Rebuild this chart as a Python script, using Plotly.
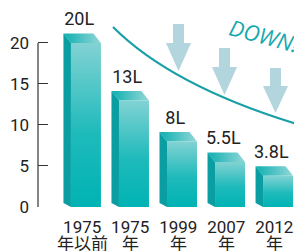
import plotly.graph_objects as go

# ---- data ----
year_labels = ["1975", "1975", "1999", "2007", "2012"]
suffix_labels = ["年以前", "年", "年", "年", "年"]
values = [20, 13, 8, 5.5, 3.8]
value_labels = ["20L", "13L", "8L", "5.5L", "3.8L"]
y_ticks = [0, 5, 10, 15, 20]

# ---- layout geometry ----
W, H = 294, 251
ML, MR, MT, MB = 38, 0, 0, 44
PW, PH = W - ML - MR, H - MT - MB
X_RANGE = [-0.92, 4.41]
Y_RANGE = [0, 25.24]
XS = PW / (X_RANGE[1] - X_RANGE[0])
YS = PH / (Y_RANGE[1] - Y_RANGE[0])


def px2x(px):
    return X_RANGE[0] + (px - ML) / XS


def py2y(py):
    return Y_RANGE[0] + (MT + PH - py) / YS


FRONT_W = 30 / XS
DX = -7.5 / XS
DY = 9.5 / YS
DYB = 4 / YS

FRONT_SCALE = [[0, "#00b3b4"], [0.45, "#1ebabb"], [1, "#82d2d3"]]
TOP_SCALE = [[0, "#0eafb0"], [1, "#93d7d8"]]
SIDE_COLOR = "#0a9ea2"

fig = go.Figure()

xs = list(range(len(year_labels)))
side_x, side_y = [], []
for i, v in zip(xs, values):
    fl = i - (DX + FRONT_W) / 2
    fr = fl + FRONT_W
    side_x += [fl + DX, fl + DX, fl, fl, fl + DX, None]
    side_y += [DYB, v + DY, v, 0, DYB, None]
    # top face
    fig.add_trace(go.Scatter(
        x=[fl + DX, fr + DX, fr, fl, fl + DX],
        y=[v + DY, v + DY, v, v, v + DY],
        mode="lines", fill="toself", line=dict(width=0, color="rgba(0,0,0,0)"),
        fillgradient=dict(type="horizontal", colorscale=TOP_SCALE),
        hoverinfo="skip", showlegend=False))
    # front face
    fig.add_trace(go.Scatter(
        x=[fl, fr, fr, fl, fl],
        y=[0, 0, v, v, 0],
        mode="lines", fill="toself", line=dict(width=0, color="rgba(0,0,0,0)"),
        fillgradient=dict(type="vertical", colorscale=FRONT_SCALE),
        hoverinfo="skip", showlegend=False))

fig.add_trace(go.Scatter(
    x=side_x, y=side_y, mode="lines", fill="toself",
    line=dict(width=0, color="rgba(0,0,0,0)"), fillcolor=SIDE_COLOR,
    hoverinfo="skip", showlegend=False))

# value labels
fig.add_trace(go.Scatter(
    x=[i - 3 / XS for i in xs],
    y=[v + DY + 12.5 / YS for v in values],
    mode="text", text=value_labels, textposition="middle center",
    textfont=dict(family="Roboto", size=18, color="#222222"),
    cliponaxis=False, hoverinfo="skip", showlegend=False))

shapes = []
# y axis line (0..20)
shapes.append(dict(type="line", xref="paper", yref="y", x0=0, x1=0, y0=0, y1=20,
                   line=dict(color="#333333", width=1.2)))

# decorative arrows
arrows = [(178.5, 24, 43, 71), (224.5, 48, 67, 95), (275.5, 68, 86, 113)]
for cx, top, head, tip in arrows:
    pts = [(cx - 5.5, top), (cx + 5.5, top), (cx + 5.5, head), (cx + 12.5, head),
           (cx, tip), (cx - 12.5, head), (cx - 5.5, head)]
    path = "M " + " L ".join(f"{px2x(a):.4f},{py2y(b):.4f}" for a, b in pts) + " Z"
    shapes.append(dict(type="path", xref="x", yref="y", path=path,
                       fillcolor="#b3d5de", line=dict(width=0), layer="below"))

# decorative trend curve
curve = (f"M {px2x(113):.4f},{py2y(27):.4f} Q {px2x(172.6):.4f},{py2y(86.6):.4f} "
         f"{px2x(300):.4f},{py2y(125):.4f}")
shapes.append(dict(type="path", xref="x", yref="y", path=curve,
                   line=dict(color="#1a9fa6", width=2.2), layer="above"))

annotations = [dict(text="<i>DOWN!</i>", xref="x", yref="y",
                    x=px2x(264), y=py2y(35), showarrow=False, textangle=15,
                    font=dict(family="Open Sans", size=22, color="#17a8ad"))]
# second line of each category label
for i, s in zip(xs, suffix_labels):
    annotations.append(dict(text=s, xref="x", yref="paper", x=i,
                            y=-(242 - (MT + PH)) / PH, yanchor="middle",
                            showarrow=False, borderpad=0,
                            font=dict(family="Noto Sans CJK JP", size=17, color="#222222")))

fig.update_layout(
    width=W, height=H, autosize=False,
    margin=dict(l=ML, r=MR, t=MT, b=MB, pad=0),
    paper_bgcolor="white", plot_bgcolor="white",
    showlegend=False,
    shapes=shapes,
    annotations=annotations,
    xaxis=dict(range=X_RANGE, tickmode="array", tickvals=xs, ticktext=year_labels,
               showgrid=False, zeroline=False, showline=False, ticks="",
               ticklabelstandoff=8,
               tickfont=dict(family="Roboto", size=17, color="#222222"),
               fixedrange=True),
    yaxis=dict(range=Y_RANGE, tickmode="array", tickvals=y_ticks,
               showgrid=False, zeroline=False, showline=False,
               ticks="inside", ticklen=10, tickwidth=1.2, tickcolor="#333333",
               ticklabelstandoff=8,
               tickfont=dict(family="Roboto", size=17, color="#222222"),
               fixedrange=True),
)

fig.write_html(
    "out.html",
    post_script="document.body.style.margin='0';document.body.style.padding='0';"
                "document.body.style.overflow='hidden';",
    config={"displayModeBar": False},
)
